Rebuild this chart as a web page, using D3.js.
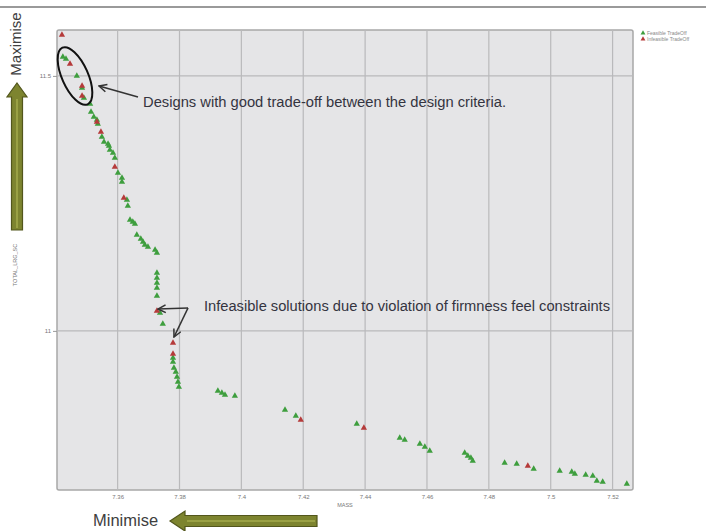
<!DOCTYPE html>
<html>
<head>
<meta charset="utf-8">
<script src="https://cdn.jsdelivr.net/npm/d3@7/dist/d3.min.js"></script>
<style>
  html, body { margin: 0; padding: 0; background: #fff; }
  svg { display: block; }
</style>
</head>
<body>
<svg id="chart" width="706" height="531"></svg>
<script>
// Pareto front: MASS (to minimise) vs TOTAL_LRG_SC (to maximise)
const feasibleMass = [
  7.3423, 7.3433, 7.3468, 7.3485, 7.3491, 7.3511, 7.3514, 7.3523, 7.3533, 7.3536,
  7.3549, 7.3556, 7.3569, 7.3572, 7.3575, 7.3585, 7.3591, 7.3601, 7.3614, 7.3614,
  7.3630, 7.3633, 7.3640, 7.3649, 7.3656, 7.3662, 7.3675, 7.3682, 7.3688, 7.3698,
  7.3721, 7.3727, 7.3727, 7.3727, 7.3727, 7.3727, 7.3727, 7.3737, 7.3746, 7.3779,
  7.3779, 7.3782, 7.3788, 7.3792, 7.3795, 7.3798, 7.3924, 7.3937, 7.3947, 7.3979,
  7.4141, 7.4176, 7.4373, 7.4512, 7.4528, 7.4577, 7.4593, 7.4609, 7.4722, 7.4732,
  7.4742, 7.4748, 7.4851, 7.4890, 7.4945, 7.5029, 7.5068, 7.5078, 7.5113, 7.5136,
  7.5149, 7.5168, 7.5246
];
const feasibleLrg = [
  11.5373, 11.5333, 11.5000, 11.4765, 11.4569, 11.4451, 11.4294, 11.4196, 11.4137, 11.4059,
  11.3804, 11.3706, 11.3667, 11.3627, 11.3549, 11.3490, 11.3392, 11.3098, 11.3000, 11.2922,
  11.2569, 11.2451, 11.2176, 11.2137, 11.2098, 11.1882, 11.1804, 11.1745, 11.1686, 11.1647,
  11.1588, 11.1529, 11.1137, 11.1039, 11.0941, 11.0843, 11.0686, 11.0353, 11.0137, 10.9471,
  10.9392, 10.9275, 10.9196, 10.9098, 10.9000, 10.8902, 10.8824, 10.8784, 10.8745, 10.8725,
  10.8451, 10.8333, 10.8176, 10.7902, 10.7863, 10.7784, 10.7725, 10.7647, 10.7608, 10.7549,
  10.7510, 10.7451, 10.7412, 10.7392, 10.7294, 10.7255, 10.7235, 10.7196, 10.7176, 10.7157,
  10.7059, 10.7039, 10.7000
];
const infeasibleMass = [
  7.3420, 7.3446, 7.3485, 7.3485, 7.3533, 7.3546, 7.3591, 7.3620, 7.3727, 7.3779,
  7.3779, 7.4192, 7.4396, 7.4926
];
const infeasibleLrg = [
  11.5804, 11.5235, 11.4804, 11.4608, 11.4098, 11.3902, 11.3216, 11.2608, 11.0392, 10.9765,
  10.9549, 10.8255, 10.8098, 10.7353
];
const massTicks = [7.36, 7.38, 7.40, 7.42, 7.44, 7.46, 7.48, 7.50, 7.52];
const massTickLabels = ["7.36", "7.38", "7.4", "7.42", "7.44", "7.46", "7.48", "7.5", "7.52"];
const lrgTicks = [11.0, 11.5];
const lrgTickLabels = ["11", "11.5"];
const seriesNames = ["Feasible TradeOff", "Infeasible TradeOff"];
const seriesColors = ["#3e9e3e", "#b53a3a"];

const svg = d3.select("#chart");
const W = 706, H = 531;
const margin = { top: 30, right: 73, bottom: 41, left: 57 };
const x = d3.scaleLinear().domain([7.3404, 7.5266]).range([margin.left, W - margin.right]);
const y = d3.scaleLinear().domain([10.688, 11.590]).range([H - margin.bottom, margin.top]);

// arrow markers
const defs = svg.append("defs");
defs.append("marker")
  .attr("id", "head").attr("viewBox", "0 0 10 10")
  .attr("refX", 9).attr("refY", 5)
  .attr("markerWidth", 6).attr("markerHeight", 6)
  .attr("markerUnits", "strokeWidth")
  .attr("orient", "auto")
  .append("path").attr("d", "M1,1 L9,5 L1,9")
  .attr("fill", "none").attr("stroke", "#333").attr("stroke-width", 1.6);

// top rule
svg.append("line").attr("x1", 0).attr("x2", W).attr("y1", 7).attr("y2", 7)
  .attr("stroke", "#9a9a9a").attr("stroke-width", 2);

// plot panel
svg.append("rect")
  .attr("x", margin.left).attr("y", margin.top)
  .attr("width", W - margin.left - margin.right)
  .attr("height", H - margin.top - margin.bottom)
  .attr("rx", 2)
  .attr("fill", "#e5e5e7").attr("stroke", "#a8a8a8").attr("stroke-width", 1.5);

// grid
svg.append("g").selectAll("line").data(massTicks).join("line")
  .attr("x1", d => x(d)).attr("x2", d => x(d))
  .attr("y1", margin.top).attr("y2", H - margin.bottom)
  .attr("stroke", "#b9b9bb").attr("stroke-width", 1.2);
svg.append("g").selectAll("line").data(lrgTicks).join("line")
  .attr("x1", margin.left).attr("x2", W - margin.right)
  .attr("y1", d => y(d)).attr("y2", d => y(d))
  .attr("stroke", "#b9b9bb").attr("stroke-width", 1.2);

// axes
const xAxis = d3.axisBottom(x).tickValues(massTicks)
  .tickFormat((d, i) => massTickLabels[i]).tickSize(0).tickPadding(5);
const gx = svg.append("g").attr("transform", `translate(0,${H - margin.bottom})`).call(xAxis);
gx.select(".domain").remove();
gx.selectAll("text").attr("font-family", "Liberation Sans, Arial, sans-serif")
  .attr("font-size", 6).attr("fill", "#777");

const yAxis = d3.axisLeft(y).tickValues(lrgTicks)
  .tickFormat((d, i) => lrgTickLabels[i]).tickSize(4).tickPadding(2);
const gy = svg.append("g").attr("transform", `translate(${margin.left},0)`).call(yAxis);
gy.select(".domain").remove();
gy.selectAll("line").attr("stroke", "#999");
gy.selectAll("text").attr("font-family", "Liberation Sans, Arial, sans-serif")
  .attr("font-size", 6).attr("fill", "#777");

svg.append("text").attr("x", 345).attr("y", 507).attr("text-anchor", "middle")
  .attr("font-family", "Liberation Sans, Arial, sans-serif").attr("font-size", 5.5)
  .attr("fill", "#777").text("MASS");
svg.append("text").attr("transform", "translate(17,265) rotate(-90)")
  .attr("text-anchor", "middle")
  .attr("font-family", "Liberation Sans, Arial, sans-serif").attr("font-size", 5.5)
  .attr("fill", "#777").text("TOTAL_LRG_SC");

// points
const tri = d3.symbol().type(d3.symbolTriangle).size(17);
const feasible = feasibleMass.map((m, i) => ({ m, v: feasibleLrg[i] }));
const infeasible = infeasibleMass.map((m, i) => ({ m, v: infeasibleLrg[i] }));
svg.append("g").selectAll("path").data(feasible).join("path")
  .attr("d", tri).attr("transform", d => `translate(${x(d.m)},${y(d.v)})`)
  .attr("fill", seriesColors[0]);
svg.append("g").selectAll("path").data(infeasible).join("path")
  .attr("d", tri).attr("transform", d => `translate(${x(d.m)},${y(d.v)})`)
  .attr("fill", seriesColors[1]);

// legend
const lg = svg.append("g").attr("transform", "translate(643,33)");
seriesNames.forEach((name, i) => {
  lg.append("path").attr("d", d3.symbol().type(d3.symbolTriangle).size(10))
    .attr("transform", `translate(0,${i * 6})`).attr("fill", seriesColors[i]);
  lg.append("text").attr("x", 4).attr("y", i * 6 + 2)
    .attr("font-family", "Liberation Sans, Arial, sans-serif").attr("font-size", 5)
    .attr("fill", "#888").text(name);
});

// annotation: good trade-off region
svg.append("ellipse").attr("cx", 75).attr("cy", 76).attr("rx", 13).attr("ry", 31)
  .attr("transform", "rotate(-24,75,76)")
  .attr("fill", "none").attr("stroke", "#111").attr("stroke-width", 2);
svg.append("line").attr("x1", 138).attr("y1", 97).attr("x2", 99).attr("y2", 86)
  .attr("stroke", "#333").attr("stroke-width", 1.6).attr("marker-end", "url(#head)");
svg.append("text").attr("x", 143).attr("y", 107)
  .attr("font-family", "Liberation Sans, Arial, sans-serif").attr("font-size", 14)
  .attr("textLength", 363).attr("lengthAdjust", "spacingAndGlyphs").attr("fill", "#34343f")
  .text("Designs with good trade-off between the design criteria.");

// annotation: infeasible solutions
svg.append("line").attr("x1", 188).attr("y1", 308).attr("x2", 158).attr("y2", 309)
  .attr("stroke", "#333").attr("stroke-width", 1.6).attr("marker-end", "url(#head)");
svg.append("line").attr("x1", 188).attr("y1", 308).attr("x2", 174).attr("y2", 337)
  .attr("stroke", "#333").attr("stroke-width", 1.6).attr("marker-end", "url(#head)");
svg.append("text").attr("x", 204).attr("y", 311)
  .attr("font-family", "Liberation Sans, Arial, sans-serif").attr("font-size", 14)
  .attr("textLength", 406).attr("lengthAdjust", "spacingAndGlyphs").attr("fill", "#34343f")
  .text("Infeasible solutions due to violation of firmness feel constraints");

// direction hints
svg.append("text").attr("transform", "translate(21,44) rotate(-90)")
  .attr("text-anchor", "middle")
  .attr("font-family", "Liberation Sans, Arial, sans-serif").attr("font-size", 15)
  .attr("fill", "#3e3e3e").text("Maximise");
svg.append("text").attr("x", 93).attr("y", 526)
  .attr("font-family", "Liberation Sans, Arial, sans-serif").attr("font-size", 16.5)
  .attr("fill", "#3e3e3e").text("Minimise");

const arrowFill = "#7d842f", arrowStroke = "#52561c";
// up arrow
svg.append("path")
  .attr("d", "M17,83 L27,97 L22.5,97 L22.5,230 L11.5,230 L11.5,97 L7,97 Z")
  .attr("fill", arrowFill).attr("stroke", arrowStroke).attr("stroke-width", 1.2);
svg.append("line").attr("x1", 17).attr("x2", 17).attr("y1", 99).attr("y2", 228)
  .attr("stroke", "#9aa144").attr("stroke-width", 2);
// left arrow
svg.append("path")
  .attr("d", "M170,521 L185,511 L185,515.5 L317,515.5 L317,526.5 L185,526.5 L185,531 Z")
  .attr("fill", arrowFill).attr("stroke", arrowStroke).attr("stroke-width", 1.2);
svg.append("line").attr("x1", 187).attr("x2", 315).attr("y1", 521).attr("y2", 521)
  .attr("stroke", "#9aa144").attr("stroke-width", 2);
</script>
</body>
</html>
